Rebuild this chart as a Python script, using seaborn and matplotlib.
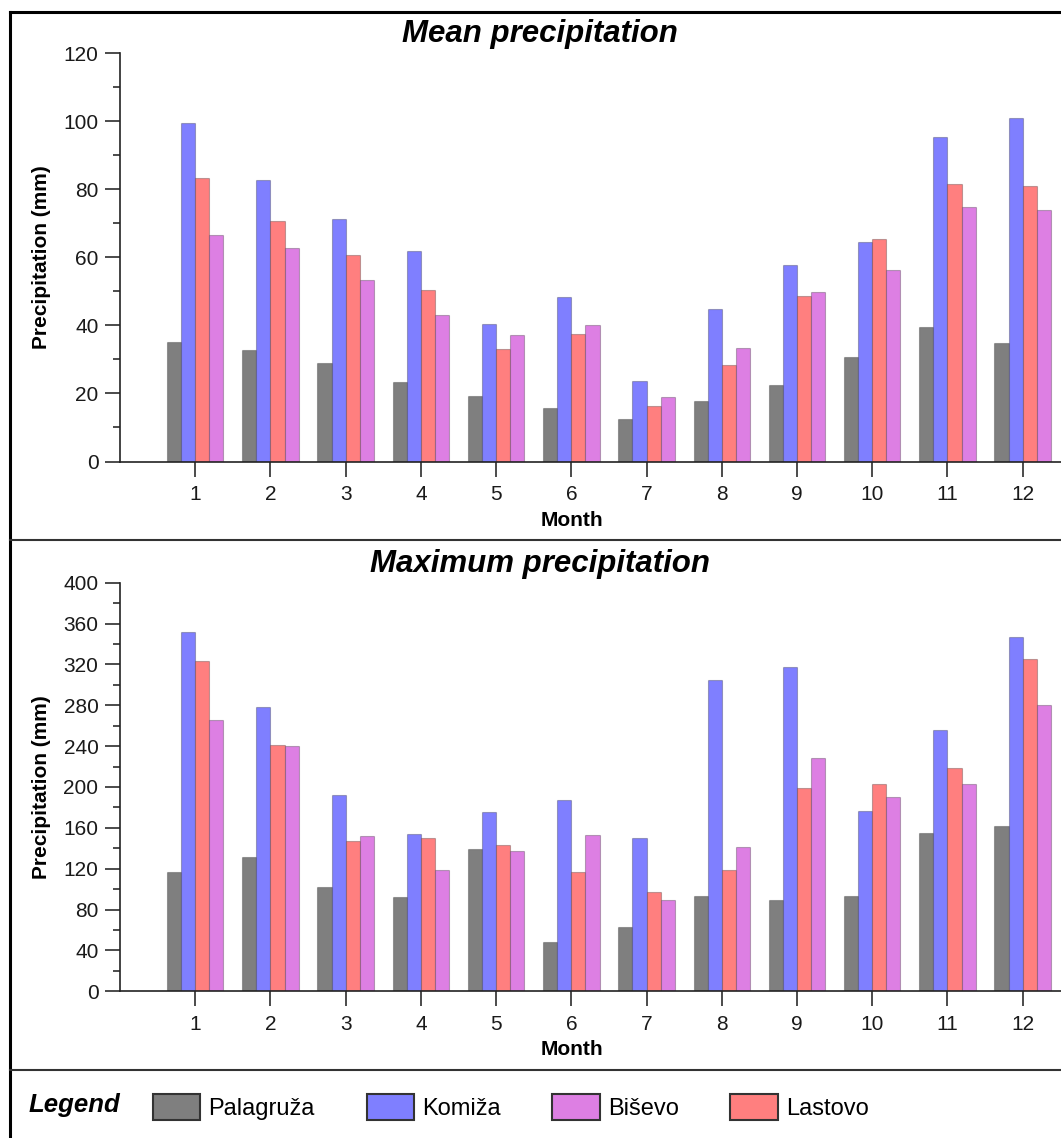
import pandas as pd
import matplotlib.pyplot as plt
import seaborn as sns
from matplotlib.patches import Patch
from matplotlib.lines import Line2D
from matplotlib.ticker import MultipleLocator

# values (mm)
months = list(range(1, 13))
stations = ['Palagruža', 'Komiža', 'Lastovo', 'Biševo']
legend_order = ['Palagruža', 'Komiža', 'Biševo', 'Lastovo']
colors = {'Palagruža': '#7f7f7f', 'Komiža': '#7f7fff',
          'Lastovo': '#ff7f7f', 'Biševo': '#dd7fe3'}

mean_palagruza = [35.2, 32.9, 29.0, 23.5, 19.3, 15.8, 12.6, 17.9, 22.5, 30.6, 39.6, 34.8]
mean_komiza = [99.4, 82.9, 71.3, 61.8, 40.4, 48.5, 23.7, 44.7, 57.8, 64.5, 95.5, 101.1]
mean_lastovo = [83.3, 70.6, 60.7, 50.5, 33.1, 37.4, 16.2, 28.5, 48.7, 65.5, 81.6, 81.1]
mean_bisevo = [66.5, 62.9, 53.4, 43.1, 37.1, 40.0, 19.0, 33.3, 49.7, 56.3, 74.9, 74.0]

max_palagruza = [116.5, 131.8, 101.6, 91.9, 138.9, 48.6, 62.4, 93.0, 89.6, 93.0, 154.6, 161.3]
max_komiza = [351.8, 278.6, 192.3, 154.2, 175.5, 187.1, 149.8, 304.4, 317.8, 176.3, 255.8, 346.6]
max_lastovo = [323.4, 241.3, 146.8, 150.1, 143.4, 116.9, 97.1, 118.8, 198.7, 202.4, 218.5, 325.7]
max_bisevo = [265.9, 240.5, 152.4, 118.8, 137.4, 153.1, 89.3, 141.5, 228.6, 190.5, 202.8, 280.1]


def long_table(pal, kom, las, bis):
    rows = []
    for name, vals in zip(stations, [pal, kom, las, bis]):
        for m, v in zip(months, vals):
            rows.append({'Month': m, 'Station': name, 'Precip': v})
    return pd.DataFrame(rows)


df_mean = long_table(mean_palagruza, mean_komiza, mean_lastovo, mean_bisevo)
df_max = long_table(max_palagruza, max_komiza, max_lastovo, max_bisevo)

sns.set_style('ticks')
plt.rcParams['font.family'] = ['Liberation Sans', 'DejaVu Sans']
plt.rcParams['text.color'] = 'black'

W, H = 1061, 1138
fig = plt.figure(figsize=(W / 100, H / 100), dpi=100)


def px(x, y):
    return x / W, 1 - y / H


ax_left = 120 / W
ax_w = 941 / W
ax1 = fig.add_axes([ax_left, 1 - 461.5 / H, ax_w, 408.1 / H])
ax2 = fig.add_axes([ax_left, 1 - 991.2 / H, ax_w, 408.5 / H])

panels = [(ax1, df_mean, 120, 20, 10, 'Mean precipitation', 34),
          (ax2, df_max, 400, 40, 20, 'Maximum precipitation', 564)]

for ax, data, ymax, major, minor, title, ty in panels:
    sns.barplot(data=data, x='Month', y='Precip', hue='Station',
                hue_order=stations, palette=colors, saturation=1,
                width=0.75, gap=0, errorbar=None,
                edgecolor=(0, 0, 0, 0.25), linewidth=0.8,
                legend=False, ax=ax)
    ax.set_xlim(-1, 11.51)
    ax.set_ylim(0, ymax)
    ax.yaxis.set_major_locator(MultipleLocator(major))
    ax.yaxis.set_minor_locator(MultipleLocator(minor))
    sns.despine(ax=ax)
    for side in ['left', 'bottom']:
        ax.spines[side].set_linewidth(1.2)
        ax.spines[side].set_color('#222222')
    ax.tick_params(axis='y', which='major', length=10.5, width=1.1,
                   labelsize=15, pad=5, colors='#1a1a1a')
    ax.tick_params(axis='y', which='minor', length=5.3, width=1.1, colors='#1a1a1a')
    ax.tick_params(axis='x', which='major', length=11, width=1.1,
                   labelsize=15, pad=6, colors='#1a1a1a')
    ax.set_ylabel('Precipitation (mm)', fontsize=15, fontweight='bold',
                  va='center', color='black')
    ax.yaxis.set_label_coords(-0.0829, 0.5)
    ax.set_xlabel('Month', fontsize=15, fontweight='bold', va='center', color='black')
    ax.xaxis.set_label_coords(0.48, -0.1434)
    fx, fy = px(540, ty)
    fig.text(fx, fy, title, ha='center', va='center', fontsize=22.5,
             fontweight='bold', fontstyle='italic', color='black')

# panel frame lines
for (x0, y0), (x1, y1), lw, col in [((10, 12), (W + 5, 12), 2.2, 'black'),
                                      ((10, 12), (10, H + 5), 2.2, 'black'),
                                      ((10, 540), (W + 5, 540), 1.5, '#333333'),
                                      ((10, 1070), (W + 5, 1070), 1.5, '#333333')]:
    a, b = px(x0, y0)
    c, d = px(x1, y1)
    fig.add_artist(Line2D([a, c], [b, d], transform=fig.transFigure,
                          color=col, linewidth=lw, solid_capstyle='projecting'))

# legend row
lx, ly = px(29, 1105)
fig.text(lx, ly, 'Legend', ha='left', va='center', fontsize=18.5,
         fontweight='bold', fontstyle='italic', color='black')
handles = [Patch(facecolor=colors[s], edgecolor='#333333', linewidth=1.5, label=s)
           for s in legend_order]
bx, by = px(153, 1107)
fig.legend(handles=handles, loc='center left', bbox_to_anchor=(bx, by),
           ncol=4, frameon=False, fontsize=17, borderpad=0, borderaxespad=0,
           handlelength=2.0, handleheight=1.3, handletextpad=0.34,
           columnspacing=2.2)

plt.savefig('out.png', dpi=100)
